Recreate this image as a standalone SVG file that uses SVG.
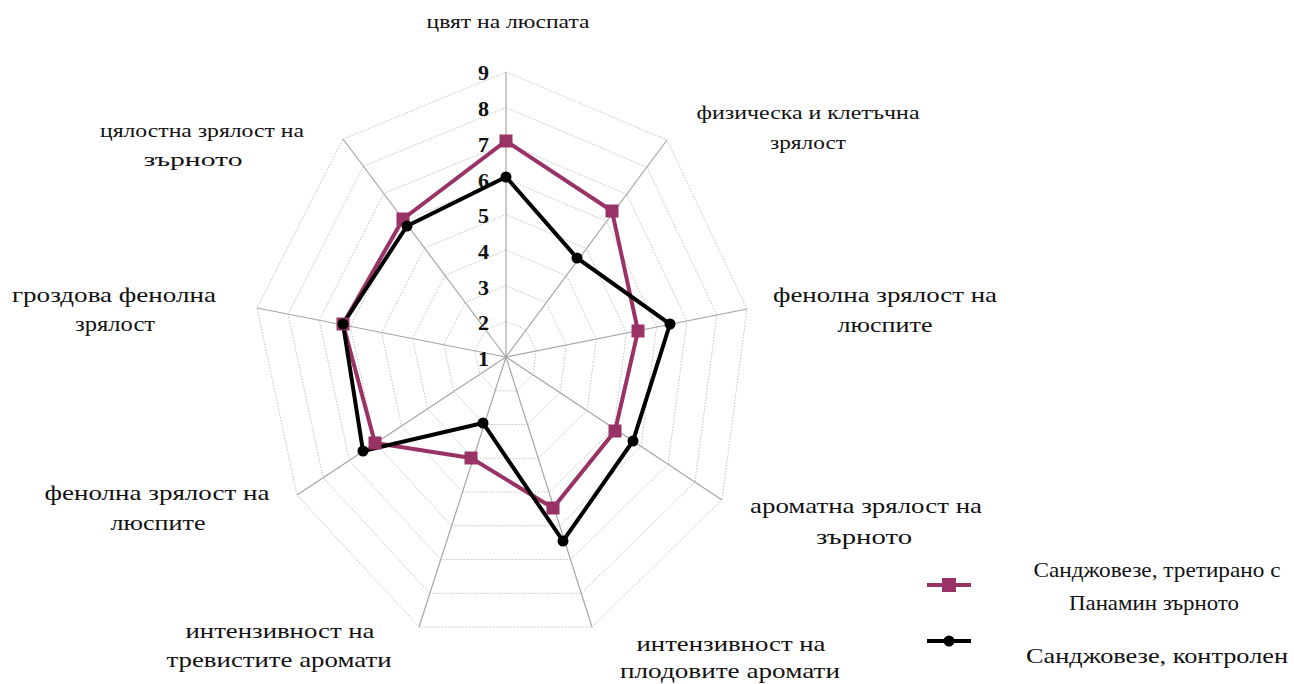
<svg xmlns="http://www.w3.org/2000/svg" width="1294" height="684" viewBox="0 0 1294 684">
<style>
.bg{fill:#ffffff}
.ring{fill:none;stroke:#c4c4c4;stroke-width:1;stroke-dasharray:1.5 1.5}
.axis{stroke:#a6a6a6;stroke-width:1.2;fill:none}
.num{font-family:"Liberation Serif",serif;font-weight:bold;font-size:22px;fill:#111;text-anchor:end}
.lbl{font-family:"Liberation Serif","DejaVu Serif",serif;font-size:22px;fill:#111;text-anchor:middle}
.sm{font-size:19px}
.xs{font-size:18px}
.sp{fill:none;stroke:#993366;stroke-width:4;stroke-linejoin:miter}
.sb{fill:none;stroke:#000;stroke-width:4;stroke-linejoin:miter}
.mp{fill:#993366}
.mb{fill:#000}
</style>
<defs>
<rect id="sq" x="-6.5" y="-6.5" width="13" height="13"/>
<circle id="dot" r="5.5"/>
</defs>
<rect class="bg" width="1294" height="684"/>
<g id="grid">
<polygon class="ring" points="506,321.4 526.1,329.9 536.1,351 533,374.9 516.8,390.8 495.1,390.8 479.9,374.3 474.9,350.9 485.6,329.8"/>
<polygon class="ring" points="506,285.8 546.3,302.8 566.3,345 560,392.8 527.5,424.5 484.3,424.5 453.8,391.5 443.8,344.8 465.3,302.5"/>
<polygon class="ring" points="506,250.1 566.4,275.6 596.4,339 587,410.6 538.3,458.3 473.4,458.3 427.6,408.8 412.6,338.6 444.9,275.3"/>
<polygon class="ring" points="506,214.5 586.5,248.5 626.5,333 614,428.5 549,492 462.5,492 401.5,426 381.5,332.5 424.5,248"/>
<polygon class="ring" points="506,178.9 606.6,221.4 656.6,327 641,446.4 559.8,525.8 451.6,525.8 375.4,443.3 350.4,326.4 404.1,220.8"/>
<polygon class="ring" points="506,143.3 626.8,194.3 686.8,321 668,464.3 570.5,559.5 440.8,559.5 349.3,460.5 319.3,320.3 383.8,193.5"/>
<polygon class="ring" points="506,107.6 646.9,167.1 716.9,315 695,482.1 581.3,593.3 429.9,593.3 323.1,477.8 288.1,314.1 363.4,166.3"/>
<polygon class="ring" points="506,72 667,140 747,309 722,500 592,627 419,627 297,495 257,308 343,139"/>
</g>
<g id="axes">
<line class="axis" x1="506" y1="357" x2="506" y2="72"/>
<line class="axis" x1="506" y1="357" x2="667" y2="140"/>
<line class="axis" x1="506" y1="357" x2="747" y2="309"/>
<line class="axis" x1="506" y1="357" x2="722" y2="500"/>
<line class="axis" x1="506" y1="357" x2="592" y2="627"/>
<line class="axis" x1="506" y1="357" x2="419" y2="627"/>
<line class="axis" x1="506" y1="357" x2="297" y2="495"/>
<line class="axis" x1="506" y1="357" x2="257" y2="308"/>
<line class="axis" x1="506" y1="357" x2="343" y2="139"/>
</g>
<g id="scale">
<text class="num" x="489" y="366">1</text>
<text class="num" x="489" y="330">2</text>
<text class="num" x="489" y="295">3</text>
<text class="num" x="489" y="259">4</text>
<text class="num" x="489" y="223">5</text>
<text class="num" x="489" y="188">6</text>
<text class="num" x="489" y="152">7</text>
<text class="num" x="489" y="116">8</text>
<text class="num" x="489" y="80">9</text>
</g>
<g id="connectors">
<polygon id="line-treated" class="sp" points="506,141 612,211 638,331 615,431 553,508 471,458 375,443 343,324 403,219"/>
<polygon id="line-control" class="sb" points="506,177 577,258 670,324 633,441 563,541 483,423 363,451 343,324 407,226"/>
</g>
<g id="series-treated">
<use href="#sq" class="mp" x="506" y="141"/>
<use href="#sq" class="mp" x="612" y="211"/>
<use href="#sq" class="mp" x="638" y="331"/>
<use href="#sq" class="mp" x="615" y="431"/>
<use href="#sq" class="mp" x="553" y="508"/>
<use href="#sq" class="mp" x="471" y="458"/>
<use href="#sq" class="mp" x="375" y="443"/>
<use href="#sq" class="mp" x="343" y="324"/>
<use href="#sq" class="mp" x="403" y="219"/>
</g>
<g id="series-control">
<use href="#dot" class="mb" x="506" y="177"/>
<use href="#dot" class="mb" x="577" y="258"/>
<use href="#dot" class="mb" x="670" y="324"/>
<use href="#dot" class="mb" x="633" y="441"/>
<use href="#dot" class="mb" x="563" y="541"/>
<use href="#dot" class="mb" x="483" y="423"/>
<use href="#dot" class="mb" x="363" y="451"/>
<use href="#dot" class="mb" x="343" y="324"/>
<use href="#dot" class="mb" x="407" y="226"/>
</g>
<g id="label-0"><text class="lbl xs" x="508" y="28" textLength="163" lengthAdjust="spacingAndGlyphs">цвят на люспата</text></g>
<g id="label-1">
<text class="lbl sm" x="808" y="119" textLength="223" lengthAdjust="spacingAndGlyphs">физическа и клетъчна</text>
<text class="lbl sm" x="808" y="149" textLength="76" lengthAdjust="spacingAndGlyphs">зрялост</text>
</g>
<g id="label-2">
<text class="lbl" x="885" y="302" textLength="224" lengthAdjust="spacingAndGlyphs">фенолна зрялост на</text>
<text class="lbl" x="885" y="332" textLength="95" lengthAdjust="spacingAndGlyphs">люспите</text>
</g>
<g id="label-3">
<text class="lbl" x="866" y="513" textLength="232" lengthAdjust="spacingAndGlyphs">ароматна зрялост на</text>
<text class="lbl" x="864" y="544" textLength="96" lengthAdjust="spacingAndGlyphs">зърното</text>
</g>
<g id="label-4">
<text class="lbl" x="731" y="651" textLength="189" lengthAdjust="spacingAndGlyphs">интензивност на</text>
<text class="lbl" x="730" y="678" textLength="220" lengthAdjust="spacingAndGlyphs">плодовите аромати</text>
</g>
<g id="label-5">
<text class="lbl" x="280" y="638" textLength="189" lengthAdjust="spacingAndGlyphs">интензивност на</text>
<text class="lbl" x="279" y="667" textLength="225" lengthAdjust="spacingAndGlyphs">тревистите аромати</text>
</g>
<g id="label-6">
<text class="lbl" x="157" y="500" textLength="225" lengthAdjust="spacingAndGlyphs">фенолна зрялост на</text>
<text class="lbl" x="158" y="530" textLength="95" lengthAdjust="spacingAndGlyphs">люспите</text>
</g>
<g id="label-7">
<text class="lbl" x="114" y="302" textLength="204" lengthAdjust="spacingAndGlyphs">гроздова фенолна</text>
<text class="lbl" x="115" y="331" textLength="80" lengthAdjust="spacingAndGlyphs">зрялост</text>
</g>
<g id="label-8">
<text class="lbl sm" x="202" y="137" textLength="204" lengthAdjust="spacingAndGlyphs">цялостна зрялост на</text>
<text class="lbl sm" x="193" y="166" textLength="99" lengthAdjust="spacingAndGlyphs">зърното</text>
</g>
<g id="legend">
<g id="legend-treated">
<line x1="927" y1="585" x2="971" y2="585" class="sp"/>
<rect x="942" y="578" width="14" height="14" class="mp"/>
<text class="lbl" x="1157" y="577" textLength="247" lengthAdjust="spacingAndGlyphs">Санджовезе, третирано с</text>
<text class="lbl" x="1154" y="610" textLength="170" lengthAdjust="spacingAndGlyphs">Панамин зърното</text>
</g>
<g id="legend-control">
<line x1="927" y1="641" x2="971" y2="641" class="sb"/>
<use href="#dot" class="mb" x="949" y="641"/>
<text class="lbl" x="1157" y="663" textLength="262" lengthAdjust="spacingAndGlyphs">Санджовезе, контролен</text>
</g>
</g>
</svg>
